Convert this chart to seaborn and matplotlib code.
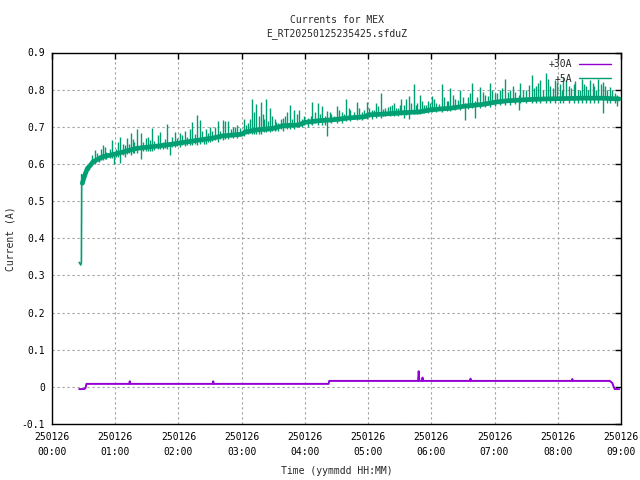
import numpy as np
import pandas as pd
import matplotlib
matplotlib.use("Agg")
import matplotlib.pyplot as plt
from matplotlib.lines import Line2D
import seaborn as sns

# ---------------- data (time in hours after 250126 00:00) ----------------
title_lines = ["Currents for MEX", "E_RT20250125235425.sfduZ"]
series_names = ["+30A", "+5A"]
x_tick_hours = [0, 1, 2, 3, 4, 5, 6, 7, 8, 9]
x_tick_labels = ["250126\n%02d:00" % h for h in x_tick_hours]
y_ticks = [-0.1, 0.0, 0.1, 0.2, 0.3, 0.4, 0.5, 0.6, 0.7, 0.8, 0.9]
y_tick_labels = ["-0.1", "0", "0.1", "0.2", "0.3", "0.4", "0.5", "0.6", "0.7", "0.8", "0.9"]

# +30A current
p30_t = [0.43, 0.51, 0.53, 0.545, 1.22, 1.23, 1.24, 2.54, 2.55, 2.56, 4.375, 4.385,
         5.79, 5.80, 5.81, 5.855, 5.86, 5.87, 6.61, 6.62, 6.63, 8.22, 8.23, 8.24,
         8.82, 8.86, 8.90, 8.97]
p30_v = [-0.006, -0.006, -0.003, 0.008, 0.008, 0.015, 0.008, 0.008, 0.015, 0.008, 0.008, 0.016,
         0.016, 0.042, 0.016, 0.016, 0.025, 0.016, 0.016, 0.022, 0.016, 0.016, 0.021, 0.016,
         0.016, 0.011, -0.006, -0.006]

# +5A current: smoothed band
p5_t = [0.43, 0.455, 0.465, 0.47, 0.48, 0.50, 0.53, 0.56, 0.60, 0.65, 0.72, 0.81, 0.90,
        1.00, 1.08, 1.20, 1.34, 1.50, 1.66, 1.85, 2.00, 2.20, 2.39, 2.55, 2.68, 2.80,
        3.00, 3.05, 3.25, 3.50, 3.65, 3.90, 4.00, 4.20, 4.45, 4.70, 4.95, 5.00, 5.30,
        5.55, 5.80, 6.00, 6.30, 6.55, 6.80, 7.00, 7.20, 7.50, 7.80, 8.10, 8.40, 8.70, 8.97]
p5_v = [0.335, 0.328, 0.335, 0.571, 0.548, 0.560, 0.575, 0.588, 0.595, 0.606, 0.612, 0.620, 0.623,
        0.627, 0.630, 0.636, 0.642, 0.645, 0.648, 0.652, 0.656, 0.661, 0.666, 0.670, 0.675, 0.677,
        0.680, 0.686, 0.692, 0.696, 0.703, 0.705, 0.712, 0.716, 0.719, 0.724, 0.727, 0.732, 0.735,
        0.738, 0.740, 0.746, 0.750, 0.756, 0.760, 0.766, 0.770, 0.773, 0.775, 0.776, 0.777, 0.777, 0.775]

# +5A current: larger excursions (time, low, high)
sp_t = [0.68, 0.75, 0.81, 0.86, 0.95, 0.98, 1.02, 1.08, 1.15, 1.25, 1.30, 1.35, 1.40, 1.48,
        1.55, 1.58, 1.68, 1.75, 1.82, 1.86, 1.95, 2.02, 2.10, 2.22, 2.29, 2.34, 2.40, 2.44,
        2.50, 2.62, 2.70, 2.74, 2.79, 2.86, 2.93, 3.03, 3.10, 3.16, 3.20, 3.23, 3.27, 3.30,
        3.35, 3.39, 3.45, 3.52, 3.58, 3.65, 3.72, 3.77, 3.83, 3.91, 3.96, 4.05, 4.12, 4.20,
        4.27, 4.32, 4.35, 4.42, 4.50, 4.58, 4.65, 4.72, 4.82, 4.90, 4.98, 5.06, 5.13, 5.20,
        5.27, 5.34, 5.41, 5.47, 5.52, 5.56, 5.60, 5.65, 5.72, 5.78, 5.82, 5.88, 5.95, 6.01,
        6.08, 6.17, 6.24, 6.30, 6.38, 6.46, 6.53, 6.58, 6.64, 6.69, 6.77, 6.85, 6.93, 7.00,
        7.08, 7.17, 7.25, 7.33, 7.38, 7.41, 7.50, 7.59, 7.66, 7.72, 7.81, 7.88, 7.96, 8.03,
        8.09, 8.17, 8.25, 8.32, 8.38, 8.45, 8.51, 8.58, 8.64, 8.72, 8.78, 8.83, 8.90, 8.93]
sp_lo = [0.600, 0.605, 0.610, 0.612, 0.615, 0.600, 0.620, 0.602, 0.620, 0.625, 0.630, 0.630, 0.613, 0.635,
         0.635, 0.635, 0.640, 0.640, 0.640, 0.625, 0.645, 0.645, 0.648, 0.650, 0.650, 0.653, 0.653, 0.655,
         0.658, 0.660, 0.665, 0.667, 0.668, 0.670, 0.670, 0.675, 0.680, 0.680, 0.680, 0.680, 0.680, 0.680,
         0.685, 0.685, 0.685, 0.690, 0.690, 0.690, 0.695, 0.695, 0.695, 0.700, 0.700, 0.700, 0.705, 0.705,
         0.705, 0.705, 0.674, 0.710, 0.710, 0.710, 0.715, 0.715, 0.718, 0.718, 0.720, 0.722, 0.725, 0.725,
         0.728, 0.730, 0.730, 0.730, 0.732, 0.725, 0.733, 0.721, 0.735, 0.735, 0.735, 0.738, 0.738, 0.740,
         0.740, 0.740, 0.742, 0.742, 0.745, 0.745, 0.718, 0.748, 0.750, 0.725, 0.750, 0.752, 0.752, 0.755,
         0.758, 0.760, 0.760, 0.762, 0.745, 0.765, 0.765, 0.765, 0.765, 0.765, 0.765, 0.765, 0.765, 0.765,
         0.765, 0.765, 0.765, 0.765, 0.765, 0.765, 0.765, 0.765, 0.765, 0.737, 0.765, 0.765, 0.765, 0.755]
sp_hi = [0.637, 0.625, 0.650, 0.632, 0.664, 0.630, 0.640, 0.672, 0.650, 0.682, 0.660, 0.694, 0.682, 0.671,
         0.665, 0.698, 0.679, 0.660, 0.707, 0.650, 0.685, 0.683, 0.688, 0.714, 0.732, 0.717, 0.665, 0.693,
         0.700, 0.715, 0.717, 0.716, 0.715, 0.700, 0.705, 0.720, 0.710, 0.774, 0.740, 0.762, 0.730, 0.766,
         0.720, 0.774, 0.750, 0.720, 0.710, 0.723, 0.740, 0.760, 0.745, 0.745, 0.720, 0.725, 0.766, 0.764,
         0.755, 0.730, 0.742, 0.735, 0.755, 0.740, 0.774, 0.745, 0.766, 0.740, 0.766, 0.745, 0.765, 0.792,
         0.750, 0.755, 0.763, 0.750, 0.775, 0.760, 0.776, 0.784, 0.816, 0.765, 0.785, 0.760, 0.770, 0.782,
         0.765, 0.816, 0.770, 0.805, 0.775, 0.798, 0.765, 0.780, 0.818, 0.770, 0.808, 0.785, 0.818, 0.790,
         0.800, 0.830, 0.800, 0.795, 0.785, 0.818, 0.800, 0.840, 0.810, 0.825, 0.846, 0.810, 0.826, 0.815,
         0.833, 0.810, 0.816, 0.800, 0.829, 0.810, 0.826, 0.810, 0.829, 0.820, 0.800, 0.807, 0.790, 0.785]

# +5A current: smaller excursions (time, low, high)
sp2_t = [0.58, 0.63, 0.71, 0.78, 0.84, 0.91, 1.05, 1.12, 1.18, 1.22, 1.28, 1.44, 1.52, 1.62,
         1.71, 1.79, 1.90, 1.98, 2.06, 2.14, 2.18, 2.26, 2.37, 2.47, 2.53, 2.58, 2.66, 2.83,
         2.90, 2.97, 3.07, 3.13, 3.33, 3.42, 3.48, 3.55, 3.62, 3.68, 3.80, 3.87, 3.99, 4.09,
         4.16, 4.24, 4.39, 4.46, 4.54, 4.62, 4.69, 4.77, 4.86, 4.94, 5.02, 5.09, 5.16, 5.24,
         5.31, 5.38, 5.44, 5.50, 5.68, 5.75, 5.85, 5.92, 5.98, 6.05, 6.12, 6.20, 6.27, 6.34,
         6.42, 6.50, 6.61, 6.73, 6.81, 6.89, 6.96, 7.04, 7.12, 7.21, 7.29, 7.45, 7.54, 7.62,
         7.69, 7.76, 7.85, 7.92, 7.99, 8.06, 8.13, 8.21, 8.28, 8.35, 8.42, 8.48, 8.55, 8.61,
         8.68, 8.75, 8.86]
sp2_lo = [0.585, 0.600, 0.607, 0.610, 0.612, 0.615, 0.620, 0.625, 0.628, 0.630, 0.630, 0.635, 0.636, 0.638,
          0.640, 0.642, 0.645, 0.648, 0.650, 0.652, 0.652, 0.655, 0.658, 0.660, 0.662, 0.664, 0.668, 0.672,
          0.674, 0.676, 0.680, 0.682, 0.688, 0.690, 0.690, 0.692, 0.695, 0.698, 0.700, 0.700, 0.705, 0.708,
          0.710, 0.712, 0.714, 0.715, 0.716, 0.718, 0.720, 0.720, 0.722, 0.724, 0.726, 0.728, 0.730, 0.730,
          0.732, 0.732, 0.733, 0.734, 0.736, 0.737, 0.738, 0.740, 0.742, 0.743, 0.744, 0.746, 0.747, 0.748,
          0.750, 0.752, 0.755, 0.757, 0.758, 0.760, 0.762, 0.764, 0.766, 0.767, 0.768, 0.770, 0.770, 0.771,
          0.771, 0.772, 0.772, 0.773, 0.773, 0.774, 0.774, 0.775, 0.775, 0.775, 0.775, 0.775, 0.775, 0.775,
          0.775, 0.775, 0.775]
sp2_hi = [0.600, 0.625, 0.630, 0.640, 0.645, 0.640, 0.660, 0.655, 0.670, 0.655, 0.668, 0.660, 0.672, 0.662,
          0.685, 0.668, 0.672, 0.670, 0.678, 0.672, 0.695, 0.680, 0.688, 0.682, 0.690, 0.700, 0.690, 0.695,
          0.700, 0.698, 0.705, 0.720, 0.735, 0.715, 0.730, 0.712, 0.720, 0.728, 0.720, 0.735, 0.728, 0.730,
          0.740, 0.735, 0.740, 0.728, 0.745, 0.735, 0.750, 0.740, 0.750, 0.745, 0.750, 0.745, 0.755, 0.748,
          0.752, 0.760, 0.750, 0.758, 0.765, 0.758, 0.770, 0.758, 0.765, 0.775, 0.762, 0.780, 0.770, 0.785,
          0.772, 0.780, 0.790, 0.780, 0.795, 0.782, 0.800, 0.790, 0.805, 0.795, 0.810, 0.800, 0.812, 0.805,
          0.818, 0.800, 0.830, 0.805, 0.820, 0.800, 0.825, 0.805, 0.822, 0.800, 0.815, 0.800, 0.818, 0.800,
          0.815, 0.810, 0.800]

# ---------------- plotting ----------------
sns.set_theme(style="white")
plt.rcParams["font.family"] = ["DejaVu Sans Mono", "DejaVu Sans"]
plt.rcParams["font.size"] = 7

purple = "#9400D3"
green = "#009E73"

fig = plt.figure(figsize=(6.4, 4.8), dpi=100)
ax = fig.add_axes([52 / 640, 1 - 424 / 480, (621 - 52) / 640, (424 - 52.5) / 480])

df30 = pd.DataFrame({"t": p30_t, "v": p30_v})
df5 = pd.DataFrame({"t": p5_t, "v": p5_v})
df5_band = df5[df5["t"] >= 0.48]

sns.lineplot(data=df30, x="t", y="v", estimator=None, sort=False, color=purple,
             lw=1.4, ax=ax, zorder=3)
sns.lineplot(data=df5, x="t", y="v", estimator=None, sort=False, color=green,
             lw=1.2, ax=ax, zorder=4)
sns.lineplot(data=df5_band, x="t", y="v", estimator=None, sort=False, color=green,
             lw=3.4, ax=ax, zorder=4)
ax.vlines(sp_t, sp_lo, sp_hi, colors=green, lw=1.0, zorder=4)
ax.vlines(sp2_t, sp2_lo, sp2_hi, colors=green, lw=1.0, zorder=4)

ax.set_xlim(0, 9)
ax.set_ylim(-0.1, 0.9)
ax.set_xticks(x_tick_hours)
ax.set_xticklabels(x_tick_labels, linespacing=1.55)
ax.set_yticks(y_ticks)
ax.set_yticklabels(y_tick_labels)

ax.tick_params(axis="both", direction="in", length=4, width=1, colors="black",
               top=True, right=True, labelsize=7)
ax.tick_params(axis="x", pad=6)
ax.tick_params(axis="y", pad=5)

ax.grid(True, color="#a0a0a0", linestyle=(0, (2, 2.5)), lw=0.8)
for s in ax.spines.values():
    s.set_visible(True)
    s.set_color("black")
    s.set_linewidth(1.0)

ax.set_xlabel("Time (yymmdd HH:MM)", fontsize=7, labelpad=7)
ax.set_ylabel("Current (A)", fontsize=7, labelpad=4)
ax.set_title("\n".join(title_lines), fontsize=7, pad=12, linespacing=1.3)

handles = [Line2D([0], [0], color=purple, lw=1.0), Line2D([0], [0], color=green, lw=1.0)]
ax.legend(handles, series_names, loc="upper right", frameon=False, markerfirst=False,
          fontsize=7, handlelength=3.3, handletextpad=0.7, labelspacing=0.45,
          borderaxespad=0.3, bbox_to_anchor=(0.995, 1.0))

fig.savefig("out.png", dpi=100)
